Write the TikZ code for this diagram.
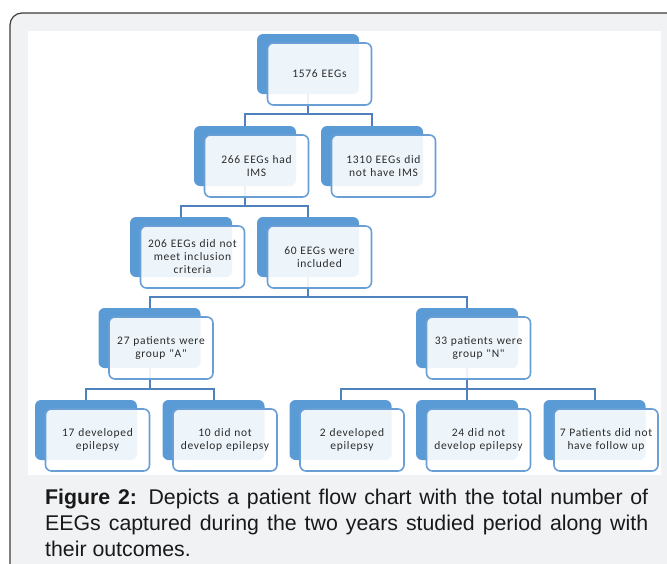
\documentclass[tikz,border=0pt]{standalone}
\usepackage{fontspec}
\setmainfont{Liberation Sans}
\newfontfamily\boxfont[LetterSpace=6]{Carlito}
\usetikzlibrary{backgrounds}
\definecolor{fcBack}{HTML}{5B9BD5}
\definecolor{fcEdge}{HTML}{4F81BD}
\definecolor{fcLine}{HTML}{6A9FD6}
\definecolor{fcPanel}{HTML}{F1F2F4}
\definecolor{fcFrame}{HTML}{3C3C3C}
\definecolor{fcText}{HTML}{2B2B2B}
\tikzset{
  backbox/.style={
    fill=fcBack, rounded corners=6pt, minimum width=102pt, minimum height=60pt, inner sep=0pt
  },
  frontbox/.style={
    draw=fcLine, line width=1.6pt, fill=white, fill opacity=0.9, text opacity=1,
    rounded corners=6pt, minimum width=104pt, minimum height=62pt, text width=102pt,
    align=center, inner sep=0pt, font=\boxfont\fontsize{11.5}{13}\selectfont, text=fcText
  },
  link/.style={draw=fcEdge, line width=2pt},
  caption/.style={
    text width=603pt, align=justify, inner sep=0pt, anchor=north west,
    font=\fontsize{21.3}{26}\selectfont, text=black!90
  }
}

\begin{document}
\begin{tikzpicture}[x=1pt, y=-1pt]
  \clip (0,0) rectangle (667,563);
  % level 1
  \node[backbox] (all) at (308,64) {};
  \node[frontbox] (all-f) at ([shift={(11.5,10)}]all.center) {1576 EEGs};
  % level 2
  \node[backbox] (ims) at (245,156) {};
  \node[frontbox] (ims-f) at ([shift={(11.5,10)}]ims.center) {266 EEGs had\\IMS};
  \node[backbox] (noims) at (372,156) {};
  \node[frontbox] (noims-f) at ([shift={(11.5,10)}]noims.center) {1310 EEGs did\\not have IMS};
  % level 3
  \node[backbox] (excl) at (181,247) {};
  \node[frontbox] (excl-f) at ([shift={(11.5,10)}]excl.center) {206 EEGs did not\\meet inclusion\\criteria};
  \node[backbox] (incl) at (308,247) {};
  \node[frontbox] (incl-f) at ([shift={(11.5,10)}]incl.center) {60 EEGs were\\included};
  % level 4
  \node[backbox] (grpa) at (149.5,338) {};
  \node[frontbox] (grpa-f) at ([shift={(11.5,10)}]grpa.center) {27 patients were\\group "A"};
  \node[backbox] (grpn) at (467,338) {};
  \node[frontbox] (grpn-f) at ([shift={(11.5,10)}]grpn.center) {33 patients were\\group "N"};
  % level 5
  \node[backbox] (aepi) at (86,430) {};
  \node[frontbox] (aepi-f) at ([shift={(11.5,10)}]aepi.center) {17 developed\\epilepsy};
  \node[backbox] (anoepi) at (213.5,430) {};
  \node[frontbox] (anoepi-f) at ([shift={(11.5,10)}]anoepi.center) {10 did not\\develop epilepsy};
  \node[backbox] (nepi) at (340.5,430) {};
  \node[frontbox] (nepi-f) at ([shift={(11.5,10)}]nepi.center) {2 developed\\epilepsy};
  \node[backbox] (nnoepi) at (467,430) {};
  \node[frontbox] (nnoepi-f) at ([shift={(11.5,10)}]nnoepi.center) {24 did not\\develop epilepsy};
  \node[backbox] (nnofu) at (594.5,430) {};
  \node[frontbox] (nnofu-f) at ([shift={(11.5,10)}]nnofu.center) {7 Patients did not\\have follow up};
  % caption
  \node[caption] (cap) at (45,489) {\textbf{Figure 2:} Depicts a patient flow chart with the total number of EEGs captured during the two years studied period along with\linebreak their outcomes.};
  \begin{scope}[on background layer]
    \draw[fcFrame, line width=1.2pt, fill=fcPanel, rounded corners=12pt] (10,13) rectangle (700,600);
    \fill[white] (28,31) rectangle (661,475);
    \draw[link] (all.south) -- ++(0,20) -| (ims.north);
    \draw[link] (all.south) -- ++(0,20) -| (noims.north);
    \draw[link] (ims.south) -- ++(0,20) -| (excl.north);
    \draw[link] (ims.south) -- ++(0,20) -| (incl.north);
    \draw[link] (incl.south) -- ++(0,20) -| (grpa.north);
    \draw[link] (incl.south) -- ++(0,20) -| (grpn.north);
    \draw[link] (grpa.south) -- ++(0,21) -| (aepi.north);
    \draw[link] (grpa.south) -- ++(0,21) -| (anoepi.north);
    \draw[link] (grpn.south) -- ++(0,21) -| (nepi.north);
    \draw[link] (grpn.south) -- ++(0,21) -| (nnoepi.north);
    \draw[link] (grpn.south) -- ++(0,21) -| (nnofu.north);
  \end{scope}
\end{tikzpicture}
\end{document}
